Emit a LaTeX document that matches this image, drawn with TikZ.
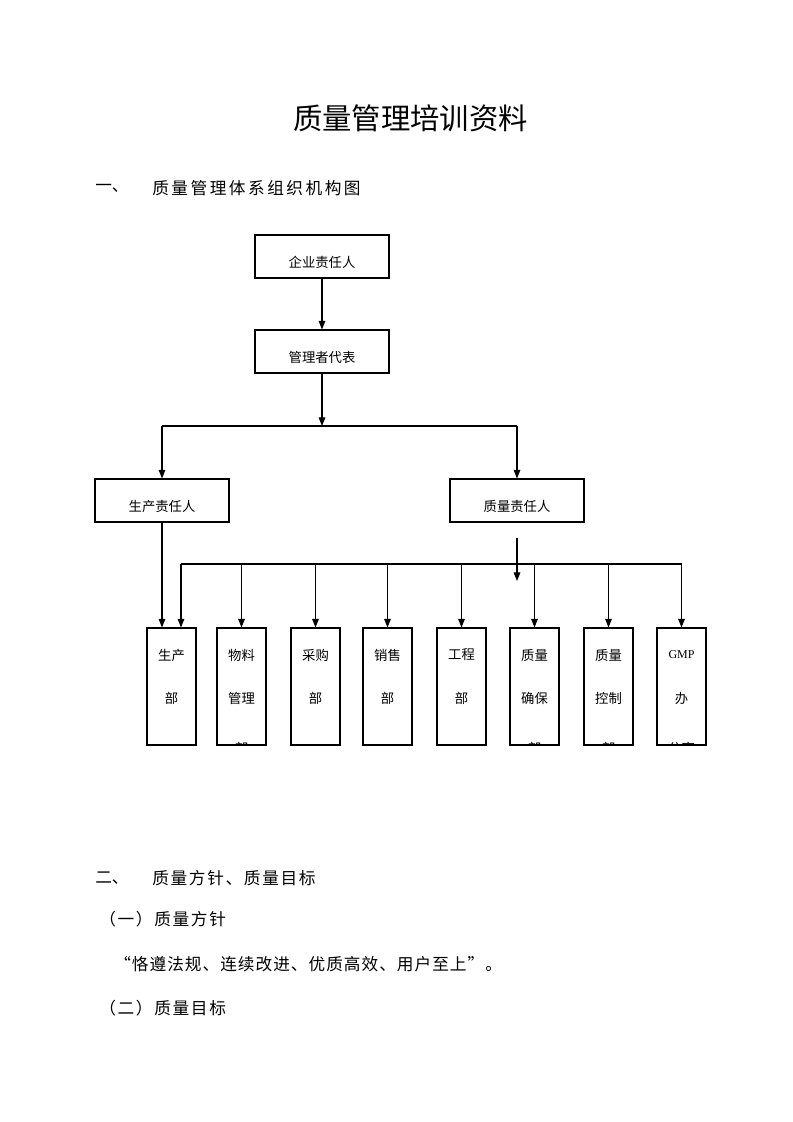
\documentclass[tikz,border=0pt]{standalone}
\usepackage{fontspec}
\setmainfont{Liberation Serif}
\newfontfamily\cjk{Noto Sans CJK SC}
\usetikzlibrary{arrows.meta,positioning}

\tikzset{
  caja/.style={draw, line width=0.8pt, minimum width=100.5pt, minimum height=32.25pt,
    inner sep=0pt, text height=17pt, text depth=0pt, font=\cjk\fontsize{10pt}{12pt}\selectfont},
  depto/.style={draw, line width=0.8pt, minimum width=36.75pt, minimum height=87.75pt, inner sep=0pt},
  rotulo/.style={inner sep=0pt, font=\cjk\fontsize{10pt}{12pt}\selectfont},
  titulo/.style={inner sep=0pt, font=\cjk\fontsize{22pt}{26pt}\selectfont},
  apartado/.style={inner sep=0pt, anchor=west, font=\cjk\fontsize{12.5pt}{15pt}\selectfont},
  linea/.style={line width=0.8pt},
  flecha/.style={line width=0.8pt, -{Triangle[length=6.5pt,width=5pt]}}
}

\begin{document}
\begin{tikzpicture}[x=0.75pt,y=-0.75pt]
	\useasboundingbox (0,0) rectangle (793,1122);
	
	% Titulo
	\node[titulo] (tit) at (410.5,118) {质量管理培训资料};
	
	% Apartado uno
	\node[apartado] (n1) at (95,188) {一、};
	\node[apartado] (t1) at (152,188) {\addfontfeature{LetterSpace=15}质量管理体系组织机构图};
	
	% Cajas de arriba
	\node[caja] (jefe) at (322,256.5) {企业责任人};
	\node[caja] (rep) at (322,351.5) {管理者代表};
	\node[caja] (prodres) at (162,500.5) {生产责任人};
	\node[caja] (calres) at (517,500.5) {质量责任人};
	
	\draw[flecha] (jefe) -- (rep);
	\coordinate (bus1) at (322,426);
	\draw[flecha] (rep) -- (bus1);
	\draw[linea] (prodres.north |- bus1) -- (calres.north |- bus1);
	\draw[flecha] (prodres.north |- bus1) -- (prodres);
	\draw[flecha] (calres.north |- bus1) -- (calres);
	
	% Departamentos (la tercera linea queda cortada por la caja)
	\foreach \x/\n/\a/\b/\c in {171.5/d1/生产/部/{}, 241.5/d2/物料/管理/部,
		315.5/d3/采购/部/{}, 387.5/d4/销售/部/{}, 461.5/d5/工程/部/{},
		534.5/d6/质量/确保/部, 608.5/d7/质量/控制/部,
		681.5/d8/{\rmfamily\fontsize{9pt}{11pt}\selectfont GMP}/办/公室}{
		\node[rotulo] (\n-a) at (\x,655) {\a};
		\node[rotulo] (\n-b) at (\x,698) {\b};
		\begin{scope}
			\clip (\x-24.5,628) rectangle (\x+24.5,745);
			\node[rotulo] (\n-c) at (\x,748) {\c};
		\end{scope}
		\node[depto] (\n) at (\x,686.5) {};
	}
	
	% Flechas hacia los departamentos
	\coordinate (bus2) at (181,564);
	\draw[linea] (bus2) -- (d8.north |- bus2);
	\draw[flecha] (bus2) -- (bus2 |- d1.north);
	\foreach \n in {d2,d3,d4,d5,d6,d7,d8}
		\draw[flecha] (\n.north |- bus2) -- (\n);
	\draw[flecha] (prodres) -- (prodres |- d1.north);
	
	% Flecha suelta bajo 质量责任人
	\coordinate (sueltoA) at (517,538);
	\coordinate (sueltoB) at (517,581);
	\draw[flecha] (sueltoA) -- (sueltoB);
	
	% Apartado dos
	\node[apartado] (n2) at (95,878) {二、};
	\node[apartado] (t2) at (152,878) {\addfontfeature{LetterSpace=10}质量方针、质量目标};
	\node[apartado] (s1) at (99,919) {\addfontfeature{LetterSpace=10}（一）质量方针};
	\node[apartado] (lema) at (114,964) {\addfontfeature{LetterSpace=6}“恪遵法规、连续改进、优质高效、用户至上”。};
	\node[apartado] (s2) at (99,1008) {\addfontfeature{LetterSpace=10}（二）质量目标};
	
\end{tikzpicture}
\end{document}
